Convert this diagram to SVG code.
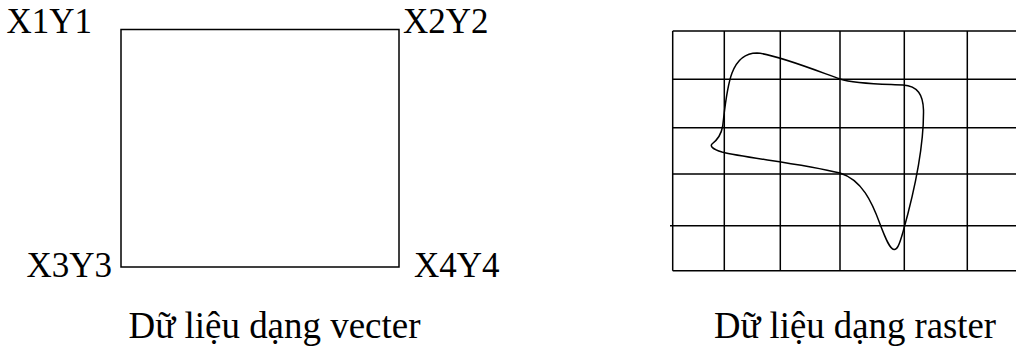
<svg xmlns="http://www.w3.org/2000/svg" width="1016" height="351" viewBox="0 0 1016 351">
<style>
text{font-family:"Liberation Serif","Times New Roman",serif;font-size:35px;fill:#000}
.cap{font-size:37px}
.ln{stroke:#000;stroke-width:1.5;fill:none}
</style>
<rect width="1016" height="351" fill="#fff"/>
<g id="vector">
<rect class="ln" x="121" y="29.5" width="278" height="237.5"/>
<text x="6.5" y="33.3">X1Y1</text>
<text x="403" y="33.3">X2Y2</text>
<text x="26.5" y="277.3">X3Y3</text>
<text x="414" y="277.3">X4Y4</text>
<text class="cap" x="128.5" y="338" textLength="292" lengthAdjust="spacingAndGlyphs">Dữ liệu dạng vecter</text>
</g>
<g id="raster">
<g class="ln">
<path d="M672.7,31V270.7M724.3,31V270.7M780.3,31V270.7M840,31V270.7M904.3,31V270.7M967.3,31V270.7"/>
<path d="M672.7,31H1016M672.7,79.3H1016M672.7,127.7H1016M672.7,174H1016M670,225.7H1016M672.7,270.7H1016"/>
</g>
<path class="ln" d="M722.7,126 C727,90 729,53 757,53 C775,54 820,72 840,79 C855,84 880,84 903,85 C918,86 923,95 923.5,110 C924,150 912,200 903,232 C899,246 897,250 894,249.5 C890,249 886,240 880,224 C872,202 862,180 840,173 C800,163 745,158 722,152 C712,149 710,146 712,144 C716,141 721,136 722.7,126Z"/>
<text class="cap" x="714" y="338" textLength="282" lengthAdjust="spacingAndGlyphs">Dữ liệu dạng raster</text>
</g>
</svg>
